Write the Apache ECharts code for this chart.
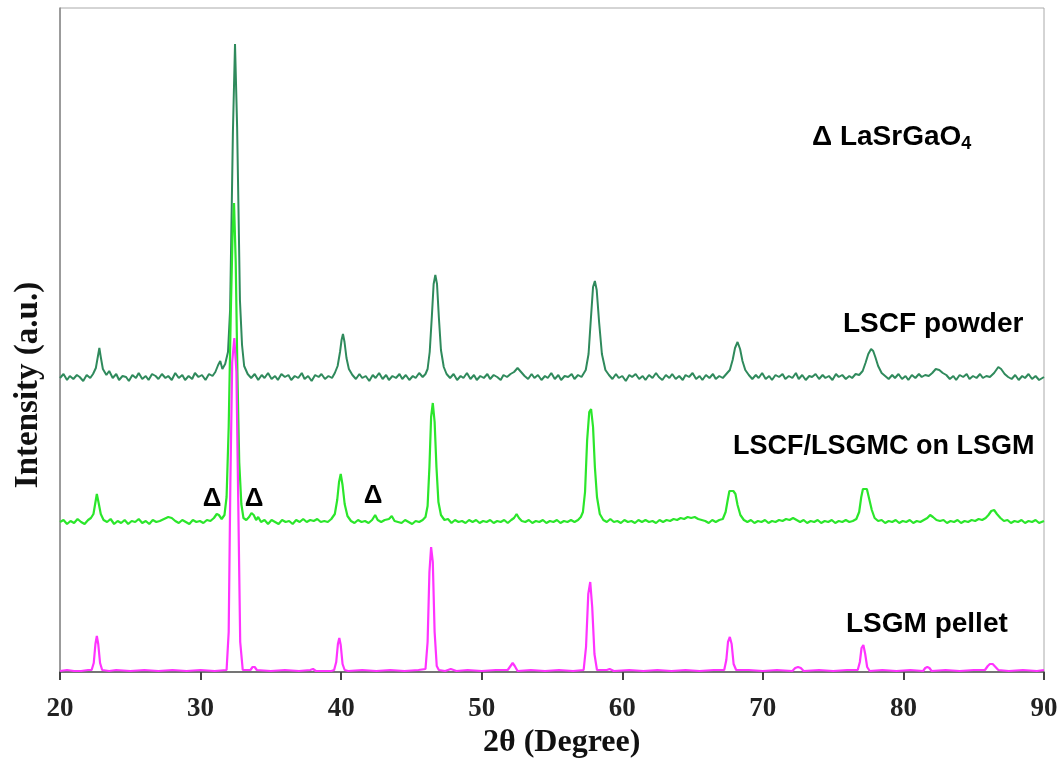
<!DOCTYPE html>
<html>
<head>
<meta charset="utf-8">
<title>XRD patterns</title>
<script src="https://cdn.jsdelivr.net/npm/echarts@6/dist/echarts.min.js"></script>
<style>
  html, body { margin: 0; padding: 0; background: #fff; }
  #chart { width: 1062px; height: 764px; }
</style>
</head>
<body>
<div id="chart"></div>
<script>
  // 2θ ticks
  const xTicks = [20, 30, 40, 50, 60, 70, 80, 90];

  // [2θ, intensity], each pattern already offset
  const lscfPowder = [
    [20.0,294],[20.25,298],[20.5,292],[20.7,296],[20.95,293],[21.2,297],[21.4,295],[21.65,291],[21.9,297],[22.15,294],[22.35,298],[22.55,304],[22.7,316],[22.8,324],[22.9,315],[23.05,303],[23.3,297],[23.5,301],[23.75,294],[24.0,298],[24.2,292],[24.45,296],[24.7,295],[24.9,291],[25.15,297],[25.4,294],[25.6,299],[25.85,293],[26.1,296],[26.3,292],[26.55,298],[26.8,296],[27.0,293],[27.25,298],[27.5,294],[27.7,296],[27.95,292],[28.2,299],[28.45,294],[28.7,297],[28.9,292],[29.15,296],[29.4,293],[29.6,299],[29.85,295],[30.1,297],[30.35,292],[30.6,298],[30.85,296],[31.05,300],[31.25,307],[31.4,311],[31.55,303],[31.75,308],[31.95,320],[32.1,362],[32.2,450],[32.3,540],[32.45,628],[32.6,545],[32.7,460],[32.8,372],[32.95,327],[33.1,306],[33.35,298],[33.6,294],[33.85,298],[34.1,292],[34.35,297],[34.55,294],[34.8,299],[35.05,293],[35.3,296],[35.5,292],[35.75,298],[36.0,295],[36.25,297],[36.45,292],[36.7,296],[36.95,294],[37.2,299],[37.4,293],[37.65,296],[37.9,291],[38.15,297],[38.4,295],[38.6,298],[38.85,293],[39.1,296],[39.35,294],[39.55,299],[39.75,306],[39.92,320],[40.03,332],[40.13,338],[40.24,330],[40.38,314],[40.55,303],[40.8,297],[41.05,293],[41.3,298],[41.5,294],[41.75,296],[42.0,291],[42.25,297],[42.45,294],[42.7,299],[42.95,293],[43.2,297],[43.4,292],[43.65,296],[43.9,294],[44.15,298],[44.35,293],[44.6,297],[44.85,292],[45.1,296],[45.3,294],[45.55,299],[45.8,295],[46.0,298],[46.15,303],[46.3,320],[46.45,355],[46.58,388],[46.7,397],[46.82,388],[46.95,355],[47.1,322],[47.3,305],[47.5,298],[47.75,294],[48.0,298],[48.25,292],[48.5,296],[48.7,294],[48.95,299],[49.2,293],[49.45,297],[49.65,292],[49.9,296],[50.15,294],[50.4,298],[50.6,293],[50.85,297],[51.1,295],[51.35,292],[51.55,297],[51.8,295],[52.05,298],[52.3,300],[52.55,304],[52.8,300],[53.05,296],[53.3,293],[53.55,298],[53.75,294],[54.0,297],[54.25,292],[54.5,296],[54.7,294],[54.95,299],[55.2,293],[55.45,297],[55.65,292],[55.9,296],[56.15,295],[56.4,298],[56.6,293],[56.85,297],[57.1,295],[57.4,302],[57.6,318],[57.75,350],[57.92,385],[58.05,391],[58.18,382],[58.35,350],[58.55,318],[58.8,302],[59.05,297],[59.3,293],[59.55,298],[59.75,294],[60.0,296],[60.25,291],[60.5,297],[60.7,295],[60.95,298],[61.2,293],[61.45,296],[61.65,292],[61.9,297],[62.15,294],[62.4,299],[62.6,295],[62.85,292],[63.1,297],[63.35,294],[63.55,298],[63.8,293],[64.05,296],[64.3,292],[64.5,297],[64.75,295],[65.0,299],[65.25,293],[65.5,296],[65.7,292],[65.95,297],[66.2,294],[66.45,298],[66.65,293],[66.9,296],[67.15,294],[67.4,298],[67.65,302],[67.85,312],[68.02,324],[68.2,330],[68.38,323],[68.55,311],[68.75,302],[69.0,297],[69.25,293],[69.5,297],[69.7,294],[69.95,299],[70.2,293],[70.45,296],[70.65,292],[70.9,297],[71.15,295],[71.4,298],[71.6,293],[71.85,296],[72.1,294],[72.35,299],[72.55,293],[72.8,297],[73.05,292],[73.3,296],[73.5,295],[73.75,298],[74.0,293],[74.25,297],[74.45,294],[74.7,296],[74.95,292],[75.2,298],[75.4,295],[75.65,297],[75.9,293],[76.15,296],[76.35,294],[76.6,298],[76.85,297],[77.1,301],[77.3,309],[77.5,318],[77.7,323],[77.85,321],[78.0,315],[78.2,306],[78.45,299],[78.7,296],[78.95,293],[79.2,297],[79.4,294],[79.65,298],[79.9,293],[80.15,296],[80.35,292],[80.6,297],[80.85,294],[81.1,298],[81.3,295],[81.55,297],[81.8,296],[82.05,299],[82.3,303],[82.55,302],[82.8,299],[83.05,297],[83.3,293],[83.55,296],[83.75,292],[84.0,297],[84.25,295],[84.5,298],[84.7,293],[84.95,296],[85.2,294],[85.45,298],[85.65,294],[85.9,296],[86.15,295],[86.45,299],[86.75,305],[86.95,303],[87.2,298],[87.45,295],[87.7,293],[87.95,297],[88.2,292],[88.45,296],[88.65,294],[88.9,298],[89.15,293],[89.4,296],[89.65,292],[90.0,295]
  ];

  const lscfOnLsgm = [
    [20.0,150],[20.25,152],[20.5,148],[20.75,151],[21.0,149],[21.25,153],[21.5,150],[21.75,148],[22.0,152],[22.2,154],[22.38,158],[22.5,168],[22.62,178],[22.75,169],[22.9,158],[23.1,152],[23.35,150],[23.6,153],[23.85,148],[24.1,151],[24.35,149],[24.6,152],[24.85,148],[25.1,151],[25.35,150],[25.6,153],[25.85,149],[26.1,151],[26.35,148],[26.6,152],[26.85,150],[27.1,151],[27.4,153],[27.7,155],[27.95,154],[28.2,151],[28.45,149],[28.7,152],[28.95,150],[29.2,148],[29.45,152],[29.7,150],[29.95,151],[30.2,149],[30.45,152],[30.7,151],[30.95,154],[31.15,158],[31.3,157],[31.5,153],[31.7,157],[31.85,175],[32.0,245],[32.15,360],[32.28,440],[32.38,469],[32.5,410],[32.62,300],[32.75,210],[32.9,168],[33.05,154],[33.25,152],[33.45,155],[33.62,159],[33.78,157],[33.95,152],[34.1,155],[34.3,150],[34.55,152],[34.8,148],[35.05,152],[35.3,150],[35.55,148],[35.8,152],[36.05,150],[36.3,151],[36.55,148],[36.8,152],[37.05,150],[37.3,153],[37.55,150],[37.8,152],[38.05,151],[38.3,153],[38.55,150],[38.8,151],[39.05,150],[39.3,153],[39.55,158],[39.72,172],[39.85,190],[39.97,198],[40.1,187],[40.25,168],[40.45,156],[40.7,151],[40.95,149],[41.2,152],[41.45,150],[41.7,151],[41.95,149],[42.2,152],[42.42,157],[42.6,152],[42.85,150],[43.1,152],[43.4,153],[43.6,156],[43.8,151],[44.05,150],[44.3,149],[44.55,152],[44.8,150],[45.05,148],[45.3,151],[45.55,150],[45.8,152],[46.0,155],[46.15,166],[46.28,205],[46.4,255],[46.52,269],[46.65,250],[46.78,205],[46.92,170],[47.1,157],[47.35,152],[47.6,153],[47.85,149],[48.1,152],[48.35,150],[48.6,151],[48.85,149],[49.1,152],[49.35,150],[49.6,152],[49.85,149],[50.1,151],[50.35,150],[50.6,152],[50.85,149],[51.1,151],[51.35,150],[51.6,152],[51.85,149],[52.1,152],[52.3,154],[52.48,158],[52.65,154],[52.85,151],[53.1,150],[53.35,152],[53.6,149],[53.85,151],[54.1,150],[54.35,152],[54.6,149],[54.85,151],[55.1,150],[55.35,152],[55.6,149],[55.85,151],[56.1,150],[56.35,152],[56.6,150],[56.85,152],[57.05,155],[57.2,160],[57.35,180],[57.5,232],[57.65,260],[57.78,263],[57.92,245],[58.05,205],[58.2,175],[58.4,158],[58.65,152],[58.9,150],[59.15,153],[59.4,150],[59.65,151],[59.9,149],[60.15,152],[60.4,150],[60.65,151],[60.9,149],[61.15,152],[61.4,150],[61.65,152],[61.9,150],[62.15,151],[62.4,149],[62.65,152],[62.9,150],[63.15,152],[63.4,151],[63.65,153],[63.9,152],[64.15,154],[64.4,153],[64.65,155],[64.9,154],[65.15,155],[65.4,153],[65.65,152],[65.9,151],[66.15,149],[66.4,152],[66.65,150],[66.9,152],[67.15,153],[67.35,160],[67.5,172],[67.62,181],[67.75,182],[67.9,181],[68.05,178],[68.2,167],[68.4,157],[68.65,152],[68.9,150],[69.15,152],[69.4,149],[69.65,151],[69.9,150],[70.15,152],[70.4,149],[70.65,151],[70.9,150],[71.15,152],[71.4,151],[71.65,153],[71.9,152],[72.15,154],[72.4,152],[72.65,150],[72.9,152],[73.15,149],[73.4,151],[73.65,150],[73.9,152],[74.15,149],[74.4,151],[74.65,150],[74.9,152],[75.15,149],[75.4,151],[75.65,150],[75.9,152],[76.15,150],[76.4,151],[76.65,153],[76.85,160],[77.0,175],[77.12,183],[77.25,185],[77.4,183],[77.55,174],[77.75,162],[77.95,154],[78.2,151],[78.45,152],[78.7,149],[78.95,151],[79.2,150],[79.45,152],[79.7,149],[79.95,151],[80.2,150],[80.45,152],[80.7,149],[80.95,151],[81.2,150],[81.45,152],[81.7,154],[81.9,157],[82.1,155],[82.35,152],[82.6,151],[82.85,152],[83.1,149],[83.35,151],[83.6,150],[83.85,152],[84.1,149],[84.35,151],[84.6,150],[84.85,152],[85.1,151],[85.35,153],[85.6,152],[85.85,154],[86.05,157],[86.25,161],[86.45,162],[86.65,158],[86.9,154],[87.15,151],[87.4,152],[87.65,149],[87.9,151],[88.15,150],[88.4,152],[88.65,149],[88.9,151],[89.15,150],[89.4,152],[89.65,149],[90.0,151]
  ];

  const lsgmPellet = [
    [20.0,1],[20.5,2],[21.0,1],[21.5,1],[22.0,2],[22.25,2],[22.4,9],[22.52,28],[22.62,36],[22.72,28],[22.85,9],[23.0,2],[23.5,1],[24,2],[25,1],[26,2],[27,1],[28,2],[29,1],[30,2],[31,1],[31.85,2],[32.0,40],[32.12,190],[32.25,310],[32.4,334],[32.55,300],[32.68,170],[32.82,30],[33.0,2],[33.55,2],[33.7,5],[33.85,5],[34.0,2],[35,1],[36,2],[37,1],[37.8,2],[38.0,3],[38.2,1],[39.3,1],[39.5,2],[39.65,10],[39.77,28],[39.87,34],[39.97,27],[40.1,8],[40.25,2],[40.5,1],[41.5,2],[42.5,1],[43.5,2],[44.5,1],[45.5,2],[46.0,3],[46.15,30],[46.28,100],[46.4,125],[46.52,110],[46.65,40],[46.8,6],[46.95,2],[47.4,1],[47.8,3],[48.2,1],[49,2],[50,1],[51,2],[51.85,2],[52.05,6],[52.2,9],[52.35,6],[52.55,1],[53.5,2],[54.5,1],[55.5,2],[56.5,1],[57.25,2],[57.42,25],[57.58,78],[57.72,90],[57.86,65],[58.02,18],[58.2,2],[58.9,2],[59.1,3],[59.4,1],[60.5,2],[61.5,1],[62.5,2],[63.5,1],[64.5,2],[65.5,1],[66.5,2],[67.25,2],[67.4,12],[67.52,30],[67.65,35],[67.78,28],[67.92,8],[68.1,2],[69,2],[70,1],[71,2],[72.1,1],[72.3,4],[72.5,5],[72.7,4],[72.9,1],[74,2],[75,1],[76,2],[76.75,2],[76.9,10],[77.02,24],[77.15,27],[77.28,18],[77.42,5],[77.6,1],[78.5,2],[79.5,1],[80.5,2],[81.4,1],[81.55,4],[81.7,5],[81.85,4],[82.0,1],[83,2],[84,1],[85,2],[85.8,2],[86.0,6],[86.15,8],[86.35,8],[86.55,5],[86.75,2],[87.5,1],[88.5,2],[89.5,1],[90,2]
  ];

  const seriesNames = ['LSCF powder', 'LSCF/LSGMC on LSGM', 'LSGM pellet'];

  const chart = echarts.init(document.getElementById('chart'));

  const serif = '"Liberation Serif", "Times New Roman", serif';
  const sans = '"Liberation Sans", Arial, sans-serif';

  function lineSeries(name, data, color, width) {
    return {
      name: name,
      type: 'line',
      data: data,
      showSymbol: false,
      symbol: 'none',
      lineStyle: { color: color, width: width },
      emphasis: { disabled: true }
    };
  }

  function label(text, x, y, size, align) {
    return {
      type: 'text',
      x: x,
      y: y,
      z: 100,
      style: {
        text: text,
        fill: '#000',
        font: 'bold ' + size + 'px ' + sans,
        align: align || 'left',
        verticalAlign: 'middle'
      }
    };
  }

  chart.setOption({
    animation: false,
    backgroundColor: '#fff',
    grid: {
      left: 60,
      right: 18,
      top: 8,
      bottom: 92,
      show: true,
      borderColor: '#aaa',
      borderWidth: 1,
      outerBoundsMode: 'none'
    },
    xAxis: {
      type: 'value',
      min: xTicks[0],
      max: xTicks[xTicks.length - 1],
      interval: 10,
      axisLine: { show: true, lineStyle: { color: '#555', width: 1.5 } },
      axisTick: { show: true, inside: false, length: 8, lineStyle: { color: '#444', width: 2 } },
      splitLine: { show: false },
      axisLabel: {
        margin: 24,
        color: '#222',
        fontFamily: serif,
        fontWeight: 'bold',
        fontSize: 27,
        showMinLabel: true,
        showMaxLabel: true
      }
    },
    yAxis: {
      type: 'value',
      min: 0,
      max: 664,
      axisLine: { show: true, lineStyle: { color: '#888', width: 1.5 } },
      axisTick: { show: false },
      axisLabel: { show: false },
      splitLine: { show: false }
    },
    series: [
      lineSeries(seriesNames[0], lscfPowder, '#2f8a5c', 2),
      lineSeries(seriesNames[1], lscfOnLsgm, '#2be62b', 2.2),
      lineSeries(seriesNames[2], lsgmPellet, '#ff33ff', 2.2)
    ],
    graphic: [
      {
        type: 'text',
        x: 812,
        y: 137,
        z: 100,
        style: {
          text: '{a|Δ LaSrGaO}{s|4}',
          fill: '#000',
          rich: {
            a: { fontFamily: sans, fontWeight: 'bold', fontSize: 28, lineHeight: 32 },
            s: { fontFamily: sans, fontWeight: 'bold', fontSize: 18, lineHeight: 18, verticalAlign: 'bottom' }
          },
          verticalAlign: 'middle'
        }
      },
      label(seriesNames[0], 843, 324, 28),
      label(seriesNames[1], 733, 447, 27),
      label(seriesNames[2], 846, 624, 28),
      label('Δ', 212, 499, 26, 'center'),
      label('Δ', 254, 499, 26, 'center'),
      label('Δ', 373, 496, 26, 'center'),
      {
        type: 'text',
        x: 483,
        y: 743,
        style: {
          text: '2θ (Degree)',
          fill: '#111',
          font: 'bold 32px ' + serif,
          verticalAlign: 'middle'
        }
      },
      {
        type: 'text',
        x: 28,
        y: 385,
        rotation: Math.PI / 2,
        style: {
          text: 'Intensity (a.u.)',
          fill: '#111',
          font: 'bold 33px ' + serif,
          align: 'center',
          verticalAlign: 'middle'
        }
      }
    ]
  });

  window.addEventListener('resize', () => chart.resize());
</script>
</body>
</html>
